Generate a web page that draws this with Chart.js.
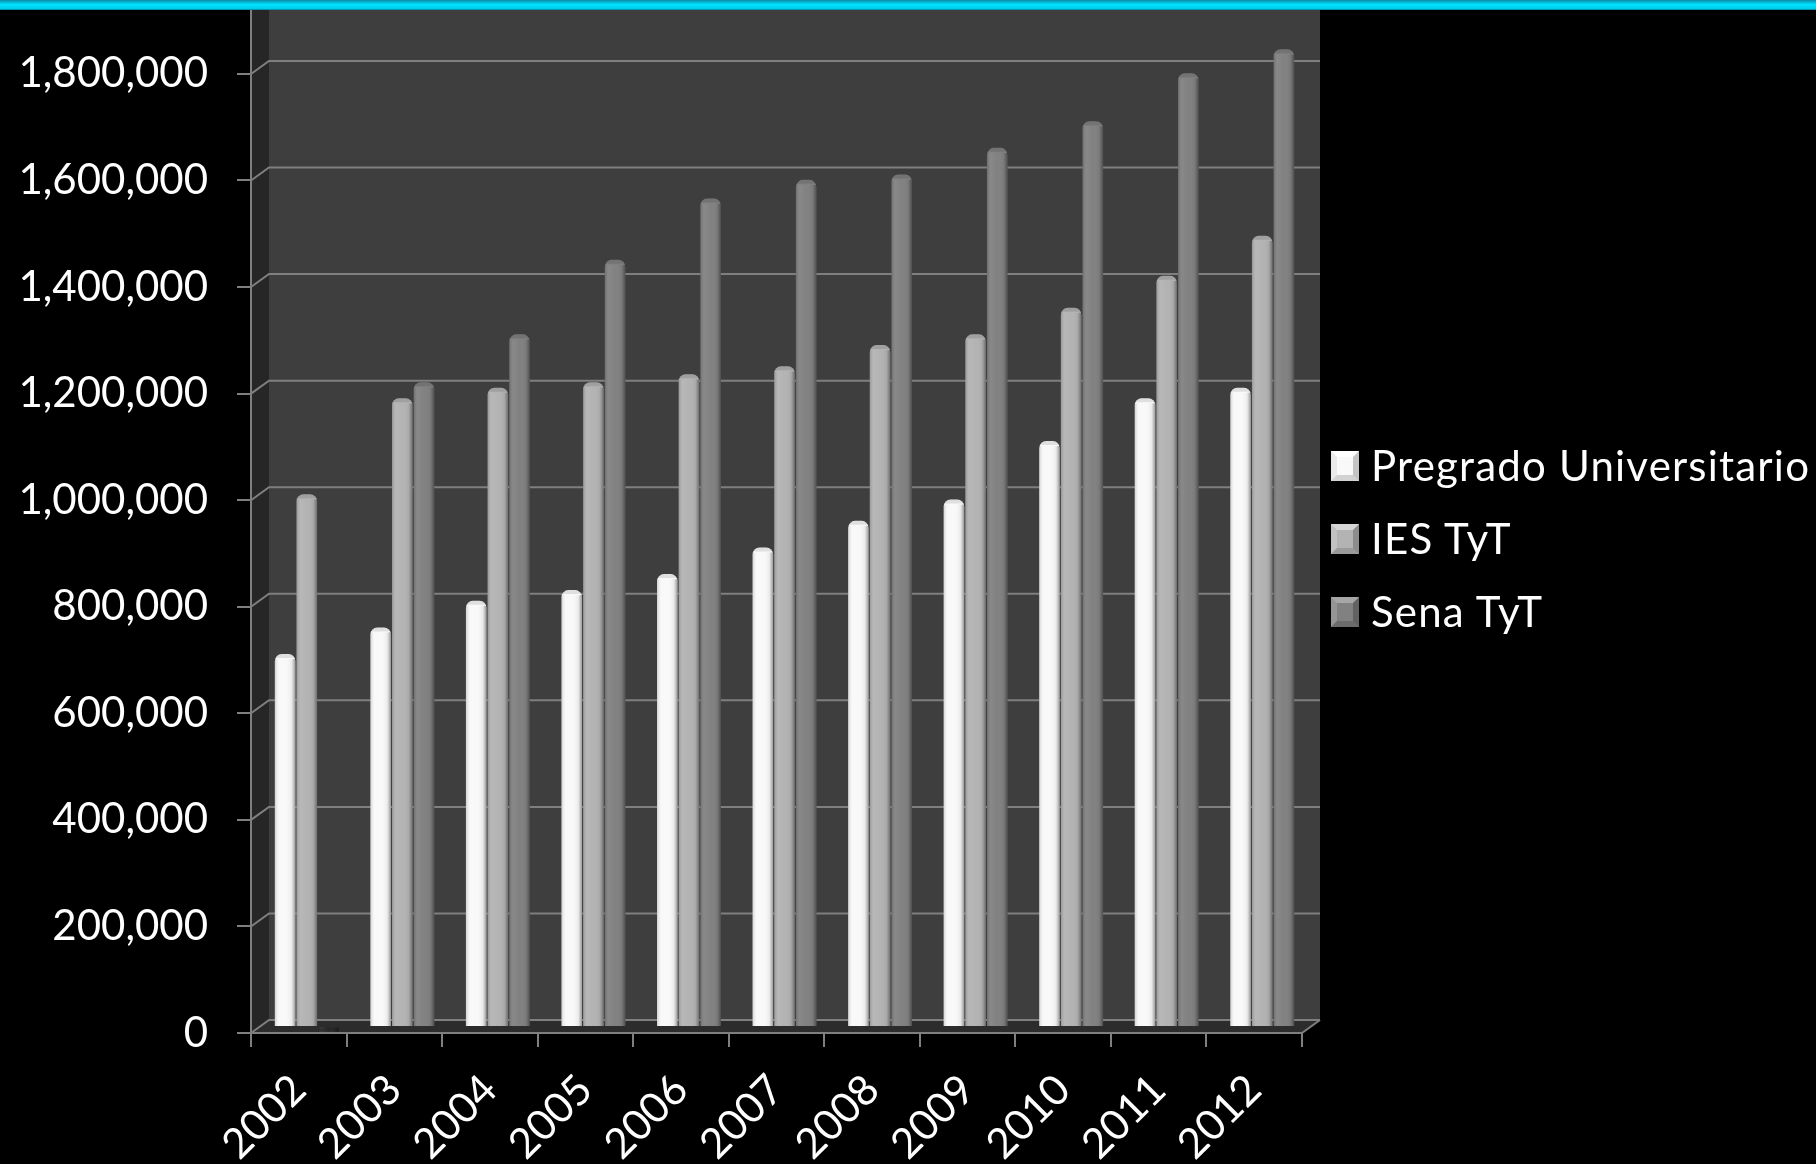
<!DOCTYPE html>
<html>
<head>
<meta charset="utf-8">
<script src="https://cdn.jsdelivr.net/npm/chart.js@4.4.1/dist/chart.umd.min.js"></script>
<style>
    html, body { margin: 0; padding: 0; background: #000; }
    #wrap { position: relative; width: 1816px; height: 1164px; overflow: hidden; }
    #topbar {
        position: absolute; left: 0; top: 0; width: 1816px; height: 10px; z-index: 2;
        background: linear-gradient(#0a8aa8, #00e2ff 45%, #00cdea 85%, #057f99);
    }
    #chart { position: absolute; left: 0; top: 0; }
    .item {
        position: absolute; left: 1331px; height: 40px; line-height: 40px;
        font-family: Lato, sans-serif; font-size: 42px; letter-spacing: 1.2px; color: #fff; white-space: nowrap;
    }
    .box {
        position: absolute; left: 0; top: 6px; width: 16px; height: 18px;
        border: 6px solid; border-width: 6px 6px 6px 6px;
    }
    .item span.txt { position: absolute; left: 40px; top: 0; }
</style>
</head>
<body>
<div id="wrap">
    <div id="topbar"></div>
    <canvas id="chart" width="1816" height="1164"></canvas>
    <div id="legend"></div>
</div>
<script>
const years = ['2002', '2003', '2004', '2005', '2006', '2007', '2008', '2009', '2010', '2011', '2012'];
const pregrado = [700000, 750000, 800000, 820000, 850000, 900000, 950000, 990000, 1100000, 1180000, 1200000];
const iesTyT = [1000000, 1180000, 1200000, 1210000, 1225000, 1240000, 1280000, 1300000, 1350000, 1410000, 1485000];
const senaTyT = [null, 1210000, 1300000, 1440000, 1555000, 1590000, 1600000, 1650000, 1700000, 1790000, 1835000];
const seriesNames = ['Pregrado Universitario', 'IES TyT', 'Sena TyT'];
const yTicks = [0, 200000, 400000, 600000, 800000, 1000000, 1200000, 1400000, 1600000, 1800000];

const colors = ['#f9f9f9', '#b3b3b3', '#818181'];
// legend bevel colours: top, right, bottom, left
const bevels = [
    ['#ffffff', '#c4c4c4', '#d2d2d2', '#e9e9e9'],
    ['#d6d6d6', '#8c8c8c', '#9a9a9a', '#c2c2c2'],
    ['#a6a6a6', '#626262', '#6c6c6c', '#959595']
];

// 3d look: offset of back wall and of the bars (mid depth)
const DX = 18, DY = -13;
const BX = 8, BY = -6;

const depthPlugin = {
    id: 'depth',
    beforeDraw(chart) {
        const { ctx, chartArea: a, scales: { y } } = chart;
        const zeroY = y.getPixelForValue(0);
        ctx.save();
        // back wall
        ctx.fillStyle = '#3e3e3e';
        ctx.fillRect(a.left + DX, 0, a.right - a.left, zeroY + DY);
        // side wall
        ctx.fillStyle = '#262626';
        ctx.beginPath();
        ctx.moveTo(a.left, 0);
        ctx.lineTo(a.left + DX, 0);
        ctx.lineTo(a.left + DX, zeroY + DY);
        ctx.lineTo(a.left, zeroY);
        ctx.closePath();
        ctx.fill();
        // floor
        ctx.fillStyle = '#2c2c2c';
        ctx.beginPath();
        ctx.moveTo(a.left, zeroY);
        ctx.lineTo(a.left + DX, zeroY + DY);
        ctx.lineTo(a.right + DX, zeroY + DY);
        ctx.lineTo(a.right, zeroY);
        ctx.closePath();
        ctx.fill();
        // grid lines on the walls
        ctx.strokeStyle = '#7f7f7f';
        ctx.lineWidth = 2;
        yTicks.forEach(t => {
            const py = y.getPixelForValue(t);
            ctx.beginPath();
            ctx.moveTo(a.left, py);
            ctx.lineTo(a.left + DX, py + DY);
            ctx.lineTo(a.right + DX, py + DY);
            ctx.stroke();
        });
        ctx.beginPath();
        ctx.moveTo(a.right, zeroY);
        ctx.lineTo(a.right + DX, zeroY + DY);
        ctx.stroke();
        ctx.restore();
    },
    beforeDatasetsDraw(chart) {
        chart.ctx.save();
        chart.ctx.translate(BX, BY);
    },
    afterDatasetsDraw(chart) {
        const ctx = chart.ctx;
        // cylinder shading on every bar
        chart.data.datasets.forEach((ds, i) => {
            chart.getDatasetMeta(i).data.forEach(bar => {
                if (bar.skip || bar.y == null || isNaN(bar.y)) return;
                const left = bar.x - bar.width / 2;
                const g = ctx.createLinearGradient(left, 0, left + bar.width, 0);
                g.addColorStop(0, 'rgba(0,0,0,0.16)');
                g.addColorStop(0.2, 'rgba(255,255,255,0.06)');
                g.addColorStop(0.5, 'rgba(255,255,255,0)');
                g.addColorStop(0.82, 'rgba(0,0,0,0.06)');
                g.addColorStop(1, 'rgba(0,0,0,0.38)');
                ctx.fillStyle = g;
                ctx.fillRect(left, bar.y + 5, bar.width, bar.base - bar.y - 5);
                ctx.fillStyle = 'rgba(0,0,0,0.10)';
                ctx.beginPath();
                ctx.ellipse(bar.x, bar.y + 4, bar.width / 2, 4, 0, Math.PI, 0);
                ctx.fill();
            });
        });
        ctx.restore();
    }
};

const datasets = [pregrado, iesTyT, senaTyT].map((d, i) => ({
    label: seriesNames[i],
    data: d,
    backgroundColor: colors[i],
    borderRadius: { topLeft: 7, topRight: 7 },
    borderSkipped: 'bottom',
    categoryPercentage: 0.68,
    barPercentage: 0.95,
    clip: false
}));

new Chart(document.getElementById('chart'), {
    type: 'bar',
    data: { labels: years, datasets: datasets },
    options: {
        responsive: false,
        animation: false,
        layout: { padding: { top: 10, right: 514, bottom: 0, left: 0 } },
        plugins: {
            legend: { display: false },
            tooltip: { enabled: false }
        },
        scales: {
            x: {
                grid: { drawOnChartArea: false, color: '#7f7f7f', lineWidth: 2, tickLength: 14 },
                border: { color: '#7f7f7f', width: 2 },
                ticks: {
                    color: '#ffffff',
                    font: { family: 'Lato', size: 42 },
                    minRotation: 45, maxRotation: 45,
                    padding: 18
                },
                afterFit: s => { s.height = 131; s.paddingLeft = 0; s.paddingRight = 0; }
            },
            y: {
                min: 0,
                max: 1920000,
                afterBuildTicks: s => { s.ticks = yTicks.map(v => ({ value: v })); },
                grid: { drawOnChartArea: false, color: '#7f7f7f', lineWidth: 2, tickLength: 14 },
                border: { color: '#7f7f7f', width: 2 },
                ticks: {
                    color: '#ffffff',
                    font: { family: 'Lato', size: 42 },
                    padding: 29,
                    callback: v => v.toLocaleString('en-US')
                },
                afterFit: s => { s.width = 251; s.paddingTop = 0; s.paddingBottom = 0; }
            }
        }
    },
    plugins: [depthPlugin]
});

// legend
const legend = document.getElementById('legend');
seriesNames.forEach((name, i) => {
    const item = document.createElement('div');
    item.className = 'item';
    item.style.top = (445 + i * 73) + 'px';
    const box = document.createElement('div');
    box.className = 'box';
    box.style.background = colors[i];
    box.style.borderColor = bevels[i].join(' ');
    const txt = document.createElement('span');
    txt.className = 'txt';
    txt.textContent = name;
    item.appendChild(box);
    item.appendChild(txt);
    legend.appendChild(item);
});
</script>
</body>
</html>
